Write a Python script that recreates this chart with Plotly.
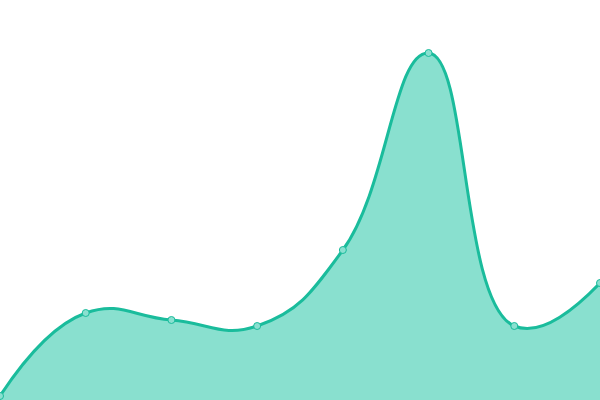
import plotly.graph_objects as go

# x positions are category indexes (0 at bottom, 400 at top)
x_idx = [0, 1, 2, 3, 4, 5, 6, 7]
values = [4, 87, 80, 74, 150, 347, 74, 117]

line_color = "#1abc9c"
fill_color = "#89e0cf"

fig = go.Figure()
fig.add_trace(go.Scatter(
    x=x_idx, y=values,
    mode="lines+markers",
    line=dict(color=line_color, width=3, shape="spline", smoothing=1.3),
    fill="tozeroy", fillcolor=fill_color,
    marker=dict(size=7, color="#8ae0d0", line=dict(color=line_color, width=1)),
    cliponaxis=False,
    hoverinfo="skip",
))

fig.update_layout(
    width=600, height=400,
    margin=dict(l=0, r=0, t=0, b=0),
    paper_bgcolor="white", plot_bgcolor="white",
    showlegend=False,
    xaxis=dict(range=[0, 7], visible=False, fixedrange=True),
    yaxis=dict(range=[0, 400], visible=False, fixedrange=True),
)

# drop the page margin so the 600x400 figure fills the window exactly
fig.write_html("out.html", config={"displayModeBar": False},
               post_script="document.body.style.margin='0';document.body.style.overflow='hidden';")
